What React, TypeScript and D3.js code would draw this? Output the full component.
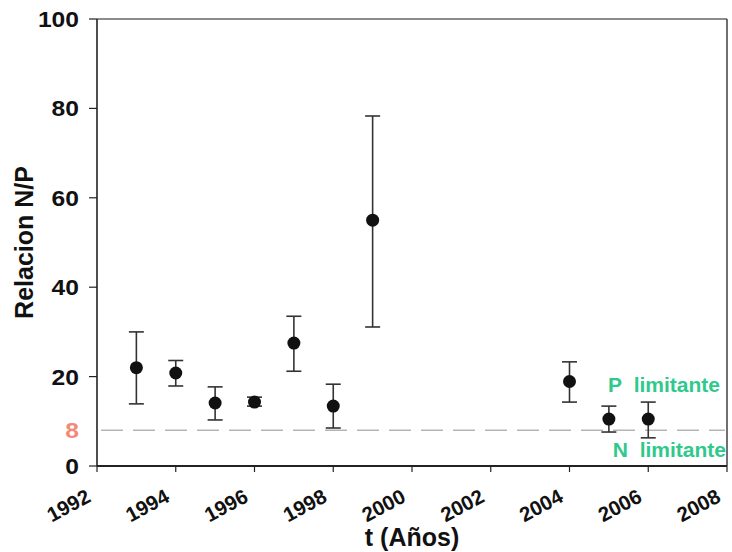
import React from "react";
import * as d3 from "d3";

// N/P ratio per year: mean with upper/lower error limits
const years = [1993, 1994, 1995, 1996, 1997, 1998, 1999, 2004, 2005, 2006];
const means = [22.0, 20.8, 14.1, 14.3, 27.5, 13.4, 55.0, 18.9, 10.5, 10.5];
const upper = [30.0, 23.6, 17.7, 15.4, 33.5, 18.3, 78.3, 23.3, 13.4, 14.3];
const lower = [13.9, 17.9, 10.3, 13.4, 21.2, 8.5, 31.1, 14.3, 7.6, 6.3];

const xTicks = [1992, 1994, 1996, 1998, 2000, 2002, 2004, 2006, 2008];
const yTicks = [0, 20, 40, 60, 80, 100];
const redfieldRatio = 8;

const W = 732;
const H = 552;
const margin = { left: 97, right: 5, top: 19, bottom: 86 };

export default function App() {
  const x = d3
    .scaleLinear()
    .domain([1992, 2008])
    .range([margin.left, W - margin.right]);
  const y = d3
    .scaleLinear()
    .domain([0, 100])
    .range([H - margin.bottom, margin.top]);

  const font = "'Liberation Sans', Arial, sans-serif";
  const axisColor = "#222";
  const green = "#2fc98c";
  const capHalf = 7.5;

  const x0 = x.range()[0];
  const x1 = x.range()[1];
  const y0 = y.range()[0];
  const y1 = y.range()[1];

  return (
    <svg
      width={W}
      height={H}
      style={{ position: "absolute", left: 0, top: 0, background: "#fff" }}
      fontFamily={font}
    >
      {/* frame */}
      <line x1={x0} x2={x1} y1={y1} y2={y1} stroke="#666" strokeWidth={1.3} />
      <line x1={x1} x2={x1} y1={y1} y2={y0} stroke="#333" strokeWidth={1.4} />
      <line x1={x0} x2={x0} y1={y1} y2={y0} stroke={axisColor} strokeWidth={1.6} />
      <line x1={x0} x2={x1} y1={y0} y2={y0} stroke={axisColor} strokeWidth={1.8} />

      {/* y axis */}
      {yTicks.map((t) => (
        <g key={"y" + t}>
          <line x1={x0 - 8} x2={x0} y1={y(t)} y2={y(t)} stroke={axisColor} strokeWidth={1.2} />
          <text
            transform={`translate(${x0 - 18},${y(t)}) scale(1.12,1)`}
            dy="0.36em"
            textAnchor="end"
            fontSize={22}
            fontWeight="bold"
            fill="#111"
          >
            {t}
          </text>
        </g>
      ))}
      <text
        transform={`translate(${x0 - 18},${y(redfieldRatio)}) scale(1.12,1)`}
        dy="0.36em"
        textAnchor="end"
        fontSize={22}
        fontWeight="bold"
        fill="#f28a78"
      >
        {redfieldRatio}
      </text>

      {/* x axis */}
      {xTicks.map((t) => (
        <g key={"x" + t}>
          <line x1={x(t)} x2={x(t)} y1={y0} y2={y0 + 6} stroke={axisColor} strokeWidth={1.2} />
          <text
            transform={`translate(${x(t) - 5},${y0 + 35}) rotate(-28)`}
            textAnchor="end"
            fontSize={20.5}
            fontWeight="bold"
            fill="#111"
          >
            {t}
          </text>
        </g>
      ))}

      {/* axis titles */}
      <text
        transform={`translate(33,${(y0 + y1) / 2}) rotate(-90)`}
        textAnchor="middle"
        fontSize={25}
        fontWeight="bold"
        fill="#111"
      >
        Relacion N/P
      </text>
      <text x={(x0 + x1) / 2} y={546} textAnchor="middle" fontSize={25} fontWeight="bold" fill="#111">
        t (Años)
      </text>

      {/* reference ratio line */}
      <line
        x1={x0 + 4}
        x2={x1 - 2}
        y1={y(redfieldRatio)}
        y2={y(redfieldRatio)}
        stroke="#b8b4b4"
        strokeWidth={1.3}
        strokeDasharray="22 10"
      />
      <text x={x1 - 7} y={392} textAnchor="end" fontSize={21} fontWeight="bold" fill={green} style={{ whiteSpace: "pre" }}>
        {"P\u00a0\u00a0limitante"}
      </text>
      <text x={x1 - 1} y={457} textAnchor="end" fontSize={21} fontWeight="bold" fill={green} style={{ whiteSpace: "pre" }}>
        {"N\u00a0\u00a0limitante"}
      </text>

      {/* error bars and means */}
      {years.map((yr, i) => {
        const cx = x(yr);
        return (
          <g key={yr}>
            <line x1={cx} x2={cx} y1={y(upper[i])} y2={y(lower[i])} stroke="#333" strokeWidth={1.6} />
            <line x1={cx - capHalf} x2={cx + capHalf} y1={y(upper[i])} y2={y(upper[i])} stroke="#333" strokeWidth={1.6} />
            <line x1={cx - capHalf} x2={cx + capHalf} y1={y(lower[i])} y2={y(lower[i])} stroke="#333" strokeWidth={1.6} />
            <circle cx={cx} cy={y(means[i])} r={6.5} fill="#111" />
          </g>
        );
      })}
    </svg>
  );
}
